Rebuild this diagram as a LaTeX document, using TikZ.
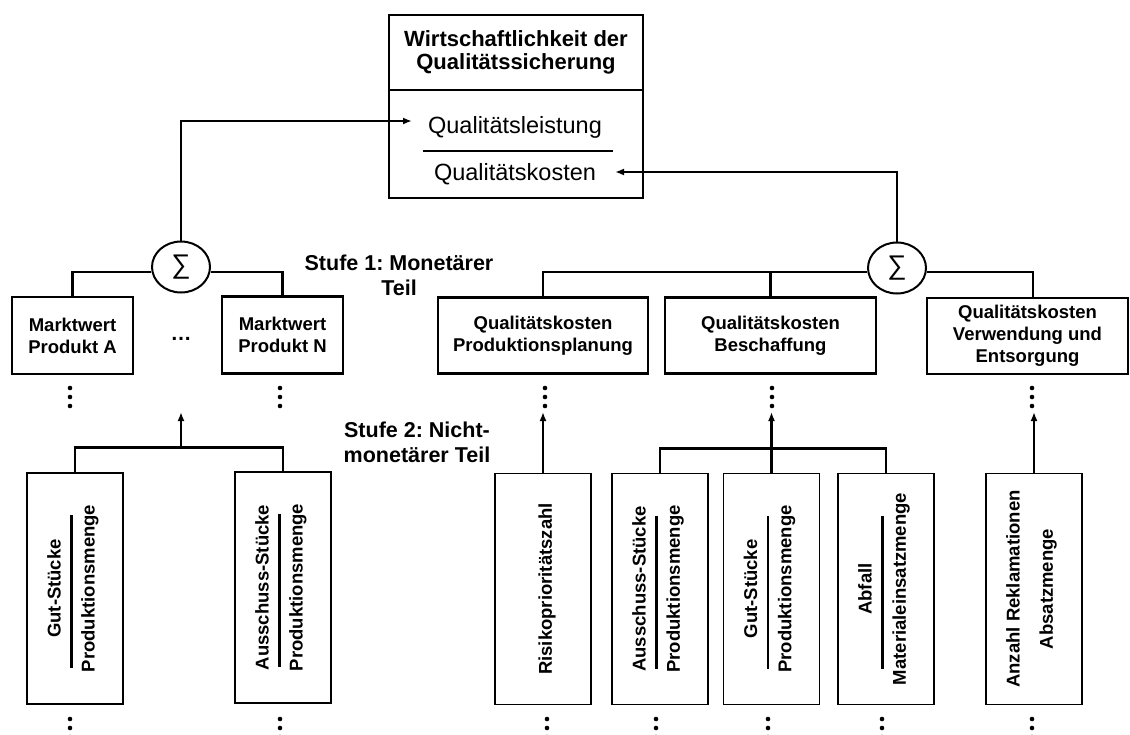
\documentclass[tikz,border=0pt]{standalone}
\usepackage{fontspec}
\setmainfont{Liberation Sans}
\usetikzlibrary{arrows.meta,shapes.geometric,backgrounds}
\frenchspacing

% rotated fraction: numerator left, bar, denominator right
\newcommand\ratiotext[3]{%
  \node[vtext] (#1-num) at ([xshift=-21pt]#1.center) {#2};
  \node[vtext] (#1-den) at ([xshift=15pt]#1.center) {#3};
  \draw[line width=2.4pt] ([xshift=-3.5pt,yshift=73.5pt]#1.center) -- ([xshift=-3.5pt,yshift=-79.5pt]#1.center);
}

\tikzset{
  box/.style={draw, line width=2.6pt, fill=white, inner sep=0pt, align=center,
    font=\bfseries\fontsize{18.5}{22}\selectfont},
  topbox/.style={box, minimum width=254pt},
  upbox/.style={box, minimum height=76pt},
  lbox/.style={draw, line width=1.4pt, fill=white, minimum width=96pt, minimum height=231pt, inner sep=0pt},
  vtext/.style={rotate=90, inner sep=0pt, font=\bfseries\fontsize{18.5}{22}\selectfont},
  sumnode/.style={ellipse, draw, line width=2pt, fill=white, minimum width=58pt, minimum height=51pt,
    inner sep=0pt, font=\fontsize{27}{27}\selectfont},
  stage/.style={align=center, inner sep=0pt, font=\bfseries\fontsize{21.5}{25}\selectfont},
  fracpart/.style={inner sep=0pt, font=\fontsize{23.5}{23.5}\selectfont},
  conn/.style={line width=2.8pt},
  arr/.style={line width=2.2pt, -{Latex[length=9pt,width=7pt]}},
  vdots/.pic={\foreach \d in {-9,0,9} \fill (0,\d) circle[radius=2.3pt];}
}

\begin{document}
\begin{tikzpicture}[x=1pt,y=-1pt]
\useasboundingbox (0,0) rectangle (1130,734);
\clip (0,0) rectangle (1130,734);

% efficiency ratio at the top
\node[topbox, minimum height=75pt, font=\bfseries\fontsize{22}{23}\selectfont] (title) at (516,52.5)
  {Wirtschaftlichkeit der\\Qualitätssicherung};
\node[topbox, minimum height=108pt] (ratio) at (516,144) {};
\node[fracpart, anchor=base] (leist) at (515,133) {Qualitätsleistung};
\node[fracpart, anchor=base] (kost) at (515,180) {Qualitätskosten};
\draw[line width=2.6pt] (423,151) -- (613,151);
\coordinate (leistIn) at (412,121);
\coordinate (kostIn) at (615,172);

% sums
\node[sumnode] (sumL) at (181,267) {∑};
\node[sumnode] (sumR) at (897,268) {∑};

% level 1: monetary part
\node[upbox, minimum width=121pt, minimum height=77pt] (mA) at (72.5,335.5) {Marktwert\\Produkt A};
\node[upbox, minimum width=121pt, minimum height=77pt] (mN) at (282.5,335) {Marktwert\\Produkt N};
\node[inner sep=0pt, anchor=base, font=\bfseries\fontsize{21}{21}\selectfont] (ell) at (181,340) {…};

\node[upbox, minimum width=210pt] (qP) at (543,335.5) {Qualitätskosten\\Produktionsplanung};
\node[upbox, minimum width=211pt] (qB) at (770.5,335.5) {Qualitätskosten\\Beschaffung};
\node[upbox, minimum width=201pt] (qV) at (1027.5,336) {Qualitätskosten\\Verwendung und\\Entsorgung};

\node[stage] (st1) at (399,275) {Stufe 1: Monetärer\\Teil};
\node[stage] (st2) at (417,442.5) {Stufe 2: Nicht-\\monetärer Teil};

% level 2: non-monetary part
\node[lbox] (L1) at (75,588.5) {};
\node[lbox] (L2) at (283,587.5) {};
\node[lbox] (R1) at (543,589) {};
\node[lbox] (R2) at (660,589) {};
\node[lbox] (R3) at (771.5,589) {};
\node[lbox] (R4) at (886,589) {};
\node[lbox] (R5) at (1034,589) {};

\ratiotext{L1}{Gut-Stücke}{Produktionsmenge}
\ratiotext{L2}{Ausschuss-Stücke}{Produktionsmenge}
\ratiotext{R2}{Ausschuss-Stücke}{Produktionsmenge}
\ratiotext{R3}{Gut-Stücke}{Produktionsmenge}
\ratiotext{R4}{Abfall}{Materialeinsatzmenge}
\node[vtext] (R1-t) at ([xshift=4pt]R1.center) {Risikoprioritätszahl};
\node[vtext] (R5-num) at ([xshift=-21pt]R5.center) {Anzahl Reklamationen};
\node[vtext] (R5-den) at ([xshift=14pt]R5.center) {Absatzmenge};

% continuation marks
\foreach \x in {70,280,545,772,1032} \pic at (\x,397) {vdots};
\foreach \x in {70,280,547,656,768,882,1032} \pic at (\x,728) {vdots};

\coordinate (brL) at (181,448);
\coordinate (tipL) at (181,412);
\coordinate (tipY) at (0,412);
\coordinate (jR) at ([yshift=-4pt]sumR.west);

% the two sums feed the ratio
\draw[arr] (sumL.north) |- (leistIn);
\draw[arr] (sumR.north) |- (kostIn);

% connectors behind the boxes
\begin{scope}[on background layer]
\fill[white] (0,0) rectangle (1130,734);
\draw[conn] ([yshift=-5pt]sumL.west) -| (mA.north);
\draw[conn] ([yshift=-5pt]sumL.east) -| (mN.north);
\draw[conn] (jR) -| (qP.north);
\draw[conn] (qB.north) -- (qB.north |- jR);
\draw[conn] ([yshift=-4pt]sumR.east) -| ([xshift=5.5pt]qV.north);

\draw[conn] (L1.north) -- ++(0,-25) -| (L2.north);
\draw[arr] (brL) -- (tipL);
\draw[conn] (R2.north) -- ++(0,-24) -| (R4.north);
\draw[conn] (R3.north) -- ++(0,-24);
\draw[arr] (R3.north) -- (R3.north |- tipY);
\draw[arr] (R1.north) -- (R1.north |- tipY);
\draw[arr] (R5.north) -- (R5.north |- tipY);
\end{scope}
\end{tikzpicture}
\end{document}
